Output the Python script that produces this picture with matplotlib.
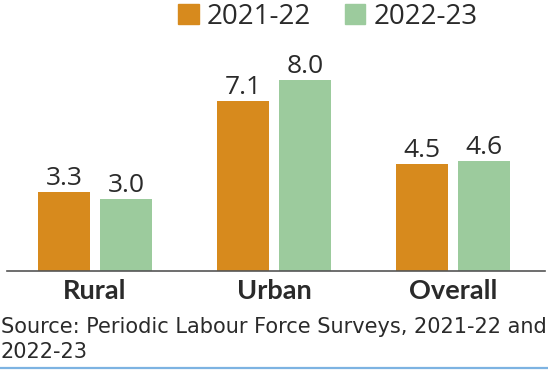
import numpy as np
import matplotlib.pyplot as plt
from matplotlib.patches import Patch

# Unemployment rate (%) by area, PLFS rounds
areas = ["Rural", "Urban", "Overall"]
years = ["2021-22", "2022-23"]
rate_2122 = [3.3, 7.1, 4.5]
rate_2223 = [3.0, 8.0, 4.6]

orange = "#D78A1D"
green = "#9CCB9D"
ink = "#2A2A2A"

fig = plt.figure(figsize=(5.48, 3.72), dpi=100)
ax = fig.add_axes([7 / 548, 101 / 372, 538 / 548, 231 / 372])

x = np.arange(len(areas))
w = 0.29
off = 0.173
b1 = ax.bar(x - off, rate_2122, w, color=orange)
b2 = ax.bar(x + off, rate_2223, w, color=green)

for bars, vals in [(b1, rate_2122), (b2, rate_2223)]:
    for bar, v in zip(bars, vals):
        ax.annotate(f"{v:.1f}", (bar.get_x() + bar.get_width() / 2, v),
                    xytext=(0, 5), textcoords="offset points",
                    ha="center", va="baseline", fontsize=19,
                    family="Open Sans", color=ink)

ax.set_xlim(-0.492, 2.514)
ax.set_ylim(0, 9.67)
ax.set_xticks(x)
ax.set_xticklabels(areas, family="Lato", fontweight="bold", fontsize=19.5, color=ink)
ax.tick_params(axis="x", length=0, pad=6)
ax.set_yticks([])
for s in ["top", "left", "right"]:
    ax.spines[s].set_visible(False)
ax.spines["bottom"].set_color("#555555")
ax.spines["bottom"].set_linewidth(1.2)

handles = [Patch(color=orange), Patch(color=green)]
fig.legend(handles, years, loc="upper left", bbox_to_anchor=(175 / 548, 1.0),
           ncol=2, frameon=False, prop={"family": "Open Sans", "size": 20},
           handlelength=0.75, handleheight=0.75, handletextpad=0.3,
           columnspacing=1.2, borderaxespad=0.0, borderpad=0.1,
           labelcolor=ink)

fig.text(1 / 548, 1 - 333 / 372, "Source: Periodic Labour Force Surveys, 2021-22 and",
         family="DejaVu Sans", fontsize=15, color=ink, va="baseline", ha="left")
fig.text(1 / 548, 1 - 358 / 372, "2022-23",
         family="DejaVu Sans", fontsize=15, color=ink, va="baseline", ha="left")

fig.add_artist(plt.Line2D([0, 1], [1 - 368 / 372] * 2, color="#7DB3E2", lw=1.6))

fig.savefig("out.png", dpi=100)
